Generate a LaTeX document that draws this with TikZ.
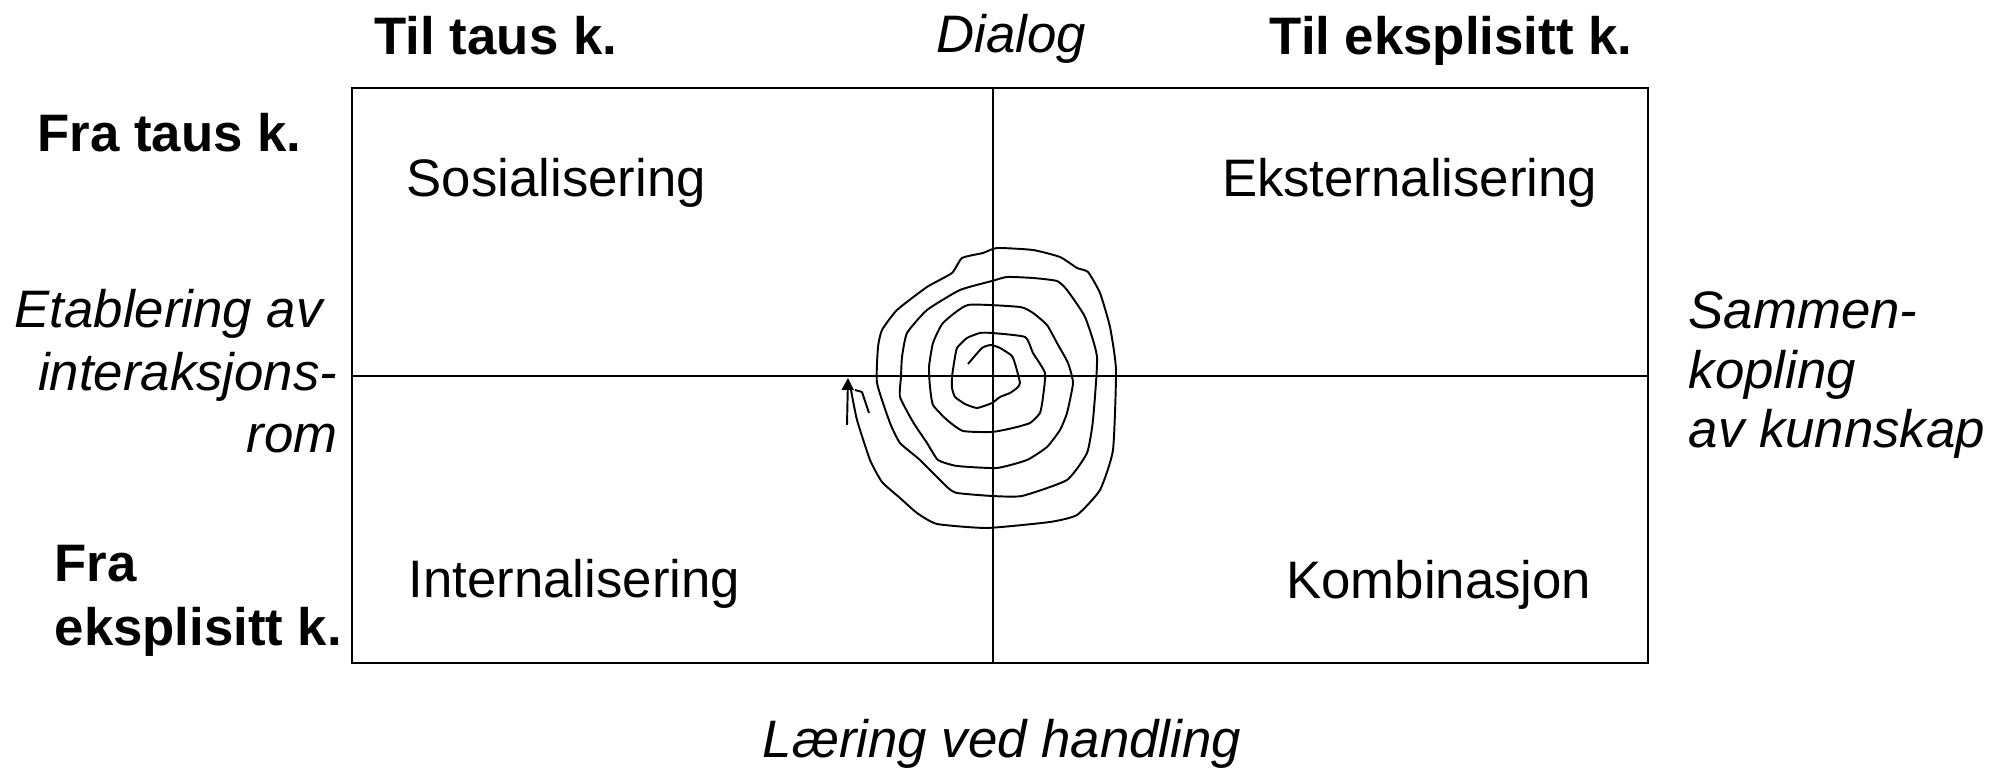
\documentclass[tikz,border=0pt]{standalone}
\usepackage{fontspec}
\setmainfont{Liberation Sans}
\usetikzlibrary{arrows.meta}

\begin{document}
\begin{tikzpicture}[x=0.01cm,y=-0.01cm,
  lbl/.style={inner sep=0pt,font=\fontsize{15pt}{18pt}\selectfont},
  hd/.style={lbl,font=\fontsize{15pt}{18pt}\selectfont\bfseries},
  it/.style={lbl,font=\fontsize{15pt}{18pt}\selectfont\itshape}]
\useasboundingbox (0,0) rectangle (2011,768);

\coordinate (nw) at (352,88);
\coordinate (se) at (1648,663);
\coordinate (t) at (993,88);
\coordinate (b) at (993,663);
\coordinate (l) at (352,376);
\coordinate (r) at (1648,376);

\draw[black,line width=0.75pt] (nw) rectangle (se);
\draw[black,line width=0.5pt] (t) to (b);
\draw[black,line width=0.5pt] (l) to (r);

% headings
\node[hd,anchor=base west] (tiltaus) at (374,55) {Til taus k.};
\node[it,anchor=base] (dialog) at (1011,53) {Dialog};
\node[hd,anchor=base east] (tileksp) at (1633,55) {Til eksplisitt k.};
\node[hd,anchor=base west] (frataus) at (37,152) {Fra taus k.};
\node[hd,anchor=base west,align=left,font=\fontsize{15pt}{18.2pt}\selectfont\bfseries] (fraeksp) at (54,646) {Fra\\eksplisitt k.};

% quadrants
\node[lbl,anchor=base west] (sos) at (406,197) {Sosialisering};
\node[lbl,anchor=base east] (ekst) at (1598,197) {Eksternalisering};
\node[lbl,anchor=base west] (int) at (408,598) {Internalisering};
\node[lbl,anchor=base east] (komb) at (1592,599) {Kombinasjon};

% sides
\node[it,anchor=base east,align=right,font=\fontsize{15pt}{17.9pt}\selectfont\itshape] (etab) at (338,453) {Etablering av\kern4.2pt\\interaksjons-\\rom};
\node[it,anchor=base west,align=left,font=\fontsize{15pt}{17pt}\selectfont\itshape] (samm) at (1688,448) {Sammen-\\kopling\\av kunnskap};
\node[it,anchor=base] (laering) at (1002,758) {Læring ved handling};

% spiral
\draw[black,line width=0.55pt,line join=round] plot[smooth,tension=0.3] coordinates {
  (968,364) (982,348) (991,345) (1000,348) (1012,356) (1016,367) (1020,383)
  (1017,388) (1010,393) (1000,397) (992,403) (977,408) (965,404) (955,397)
  (952,388) (952,377) (954,363) (957,348) (967,338) (980,333) (992,333)
  (1025,337) (1033,353) (1045,373) (1043,397) (1040,413) (1030,423) (1013,428)
  (992,432) (963,431) (947,420) (933,405) (930,387) (929,367) (933,343)
  (943,323) (968,305) (1020,307) (1033,313) (1047,325) (1057,343) (1068,363)
  (1073,383) (1067,413) (1060,430) (1047,447) (1027,460) (997,468) (957,466)
  (938,460) (927,443) (913,422) (900,397) (901,377) (902,357) (907,333)
  (927,310) (960,290) (992,281) (1007,277) (1033,278) (1057,281) (1067,290)
  (1085,317) (1097,357) (1093,420) (1087,453) (1067,480) (1022,496) (992,496)
  (957,493) (947,487) (920,460) (900,443) (890,423) (877,383) (878,347)
  (882,330) (897,310) (927,287) (952,273) (962,258) (983,253) (997,248)
  (1033,250) (1060,257) (1077,268) (1088,272) (1100,293) (1110,327) (1116,370)
  (1113,450) (1100,490) (1077,515) (1050,522) (987,528) (937,524) (917,513)
  (900,498) (882,482) (870,460) (857,420) (851,390)};
\coordinate (tip) at (848,378);
\coordinate (stem) at (847,425);
\draw[black,line width=0.55pt,-{Triangle[length=3.4pt,width=3.4pt]}] (stem) to (tip);
\draw[black,line width=0.55pt,line join=round] (855,390) -- (862,392) -- (869,413);
\end{tikzpicture}
\end{document}
